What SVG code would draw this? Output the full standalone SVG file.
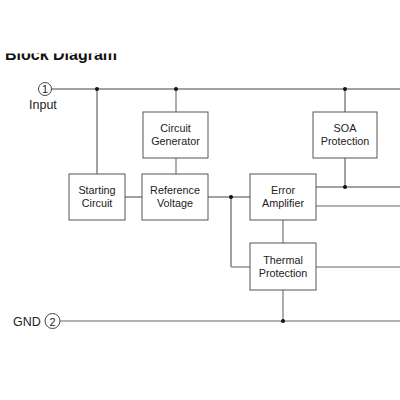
<svg xmlns="http://www.w3.org/2000/svg" width="400" height="400" viewBox="0 0 400 400">
<style>
.box{fill:#fff;stroke:#555;stroke-width:1}
.t{font-family:"Liberation Sans",Arial,sans-serif;font-size:10.8px;fill:#222;text-anchor:middle}
.lbl{font-family:"Liberation Sans",Arial,sans-serif;font-size:12.5px;fill:#222}
.d{stroke:#444;stroke-width:1;fill:none}
.g{stroke:#999;stroke-width:1.6;fill:none}
.pin{fill:#fff;stroke:#444;stroke-width:1}
.dot{fill:#111}
</style>
<rect width="400" height="400" fill="#fff"/>
<g id="title">
<text x="5" y="60" font-family="Liberation Sans,Arial,sans-serif" font-weight="bold" font-size="16" fill="#111">Block Diagram</text>
<rect x="0" y="0" width="400" height="53.5" fill="#fff"/>
</g>
<g id="connectors">
<path class="d" d="M51 89H400"/>
<path class="d" d="M97 89V174"/>
<path class="g" d="M176 89V112"/>
<path class="g" d="M176 158V174"/>
<path class="d" d="M345 89V112"/>
<path class="d" d="M345 158V187"/>
<path class="d" d="M125 197H142"/>
<path class="d" d="M208 197H250"/>
<path class="d" d="M231 197V267"/>
<path class="g" d="M231 267H250"/>
<path class="d" d="M316 187H400"/>
<path class="g" d="M316 206H400"/>
<path class="g" d="M283 220V243"/>
<path class="g" d="M316 267H400"/>
<path class="g" d="M283 290V321"/>
<path class="g" d="M60 321H400" stroke="#777" stroke-width="1.2"/>
<circle class="dot" cx="97" cy="89" r="2"/>
<circle class="dot" cx="176" cy="89" r="2"/>
<circle class="dot" cx="345" cy="89" r="2"/>
<circle class="dot" cx="345" cy="187" r="2"/>
<circle class="dot" cx="231" cy="197" r="2"/>
<circle class="dot" cx="283" cy="321" r="2"/>
</g>
<g id="pin1">
<circle class="pin" cx="45" cy="89" r="6.5"/>
<text x="45" y="93" class="t" font-size="11.5">1</text>
<text x="29" y="109" class="lbl">Input</text>
</g>
<g id="pin2">
<circle class="pin" cx="52.5" cy="321" r="7.5"/>
<text x="52.5" y="325.5" class="t" font-size="13">2</text>
<text x="13" y="326" class="lbl">GND</text>
</g>
<g id="circuit-generator">
<rect class="box" x="143" y="112" width="65" height="46"/>
<text class="t" x="175.5" y="132">Circuit</text>
<text class="t" x="175.5" y="145">Generator</text>
</g>
<g id="soa-protection">
<rect class="box" x="313" y="112" width="64" height="46"/>
<text class="t" x="345" y="132">SOA</text>
<text class="t" x="345" y="145">Protection</text>
</g>
<g id="starting-circuit">
<rect class="box" x="69" y="174" width="56" height="46"/>
<text class="t" x="97" y="194">Starting</text>
<text class="t" x="97" y="207">Circuit</text>
</g>
<g id="reference-voltage">
<rect class="box" x="142" y="174" width="66" height="46"/>
<text class="t" x="175" y="194">Reference</text>
<text class="t" x="175" y="207">Voltage</text>
</g>
<g id="error-amplifier">
<rect class="box" x="250" y="174" width="66" height="46"/>
<text class="t" x="283" y="194">Error</text>
<text class="t" x="283" y="207">Amplifier</text>
</g>
<g id="thermal-protection">
<rect class="box" x="250" y="243" width="66" height="47"/>
<text class="t" x="283" y="264">Thermal</text>
<text class="t" x="283" y="277">Protection</text>
</g>
</svg>
